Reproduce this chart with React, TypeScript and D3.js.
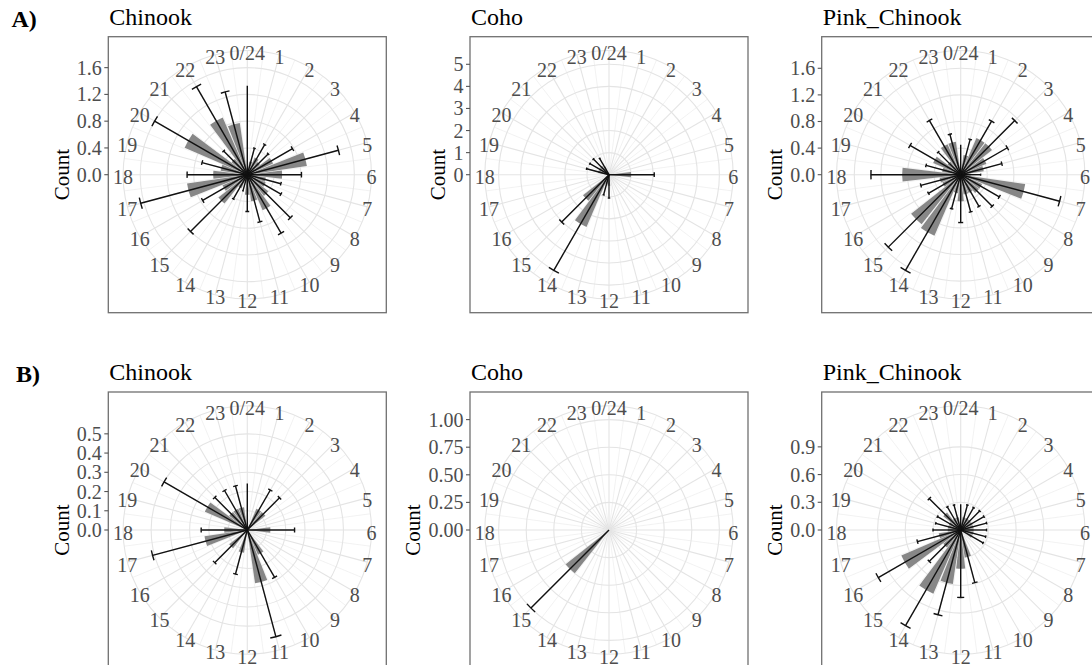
import React from 'react';
import * as d3 from 'd3';

// Hour of day (theta) and its labels; the first and last share a position.
const HOURS = [0, 1, 2, 3, 4, 5, 6, 7, 8, 9, 10, 11, 12, 13, 14, 15, 16, 17, 18, 19, 20, 21, 22, 23];
const HOUR_LABELS = ['0/24', '1', '2', '3', '4', '5', '6', '7', '8', '9', '10', '11', '12', '13', '14', '15', '16', '17', '18', '19', '20', '21', '22', '23'];

// A) Chinook — mean count per hour and upper error limit
const chinookA_mean = [0, 0.2, 0.28, 0.24, 0.42, 0.9, 0.52, 0.28, 0.3, 0.4, 0.58, 0.4, 0.3, 0.12, 0.22, 0.55, 0.4, 0.91, 0.51, 0.4, 1.02, 0.3, 0.93, 0.78];
const chinookA_upper = [1.33, 0.41, 0.52, 0.44, 0.78, 1.41, 0.81, 0.52, 0.58, 0.91, 1.01, 0.73, 0.55, 0.25, 0.42, 1.2, 0.77, 1.65, 0.9, 0.7, 1.6, 0.5, 1.52, 1.28];
const chinookA_ticks = [0, 0.4, 0.8, 1.2, 1.6];
const chinookA_tickLabels = ['0.0', '0.4', '0.8', '1.2', '1.6'];

// A) Coho
const cohoA_mean = [0, 0, 0, 0, 0, 0, 1.0, 0, 0, 0, 0, 0, 0.5, 0.45, 2.58, 1.5, 0, 0, 0, 0.5, 0.5, 0.5, 0.4, 0];
const cohoA_upper = [null, null, null, null, null, null, 2.05, null, null, null, null, null, 1.06, 0.95, 5.0, 3.03, null, null, null, 1.05, 1.0, 1.0, 0.85, null];
const cohoA_ticks = [0, 1, 2, 3, 4, 5];
const cohoA_tickLabels = ['0', '1', '2', '3', '4', '5'];

// A) Pink_Chinook
const pinkA_mean = [0, 0.3, 0.6, 0.6, 0.42, 0.35, 0.15, 0.98, 0.35, 0.35, 0.3, 0.3, 0.4, 0.28, 1.0, 0.95, 0.3, 0.32, 0.88, 0.28, 0.45, 0.25, 0.5, 0.5];
const pinkA_upper = [0.45, 0.55, 0.93, 1.15, 0.81, 0.64, 0.3, 1.54, 0.67, 0.67, 0.55, 0.58, 0.72, 0.53, 1.66, 1.54, 0.56, 0.62, 1.35, 0.54, 0.88, 0.48, 0.94, 0.63];
const pinkA_ticks = [0, 0.4, 0.8, 1.2, 1.6];
const pinkA_tickLabels = ['0.0', '0.4', '0.8', '1.2', '1.6'];

// B) Chinook
const chinookB_mean = [0, 0, 0.12, 0.12, 0, 0, 0.12, 0, 0, 0, 0.14, 0.28, 0, 0.12, 0, 0.12, 0, 0.225, 0.12, 0, 0.24, 0.12, 0.12, 0.12];
const chinookB_upper = [0.242, null, 0.24, 0.237, null, null, 0.246, null, null, null, 0.284, 0.574, null, 0.237, null, 0.24, null, 0.51, 0.24, null, 0.5, 0.24, 0.237, 0.237];
const chinookB_ticks = [0, 0.1, 0.2, 0.3, 0.4, 0.5];
const chinookB_tickLabels = ['0.0', '0.1', '0.2', '0.3', '0.4', '0.5'];

// B) Coho
const cohoB_mean = [0, 0, 0, 0, 0, 0, 0, 0, 0, 0, 0, 0, 0, 0, 0, 0.5, 0, 0, 0, 0, 0, 0, 0, 0];
const cohoB_upper = [null, null, null, null, null, null, null, null, null, null, null, null, null, null, null, 1.0, null, null, null, null, null, null, null, null];
const cohoB_ticks = [0, 0.25, 0.5, 0.75, 1.0];
const cohoB_tickLabels = ['0.00', '0.25', '0.50', '0.75', '1.00'];

// B) Pink_Chinook
const pinkB_mean = [0, 0.14, 0.14, 0.14, 0.14, 0.14, 0.14, 0.14, 0.14, 0, 0, 0.3, 0.42, 0.59, 0.75, 0.24, 0.7, 0.24, 0.14, 0.14, 0.14, 0.24, 0.14, 0.14];
const pinkB_upper = [0.28, 0.28, 0.28, 0.29, 0.29, 0.29, 0.28, 0.28, 0.28, null, null, 0.59, 0.73, 0.95, 1.195, 0.48, 1.03, 0.485, 0.3, 0.28, 0.29, 0.48, 0.29, 0.28];
const pinkB_ticks = [0, 0.3, 0.6, 0.9];
const pinkB_tickLabels = ['0.0', '0.3', '0.6', '0.9'];

const PANEL_W = 278;
const PANEL_H = 276;
const BAR_WIDTH = 0.9; // hours
const CAP_WIDTH = 0.4; // hours
const FONT = "'Liberation Serif', 'Times New Roman', serif";
const AXIS_GREY = '#4d4d4d';
const AXIS_SIZE = 20;

function textWidth(s: string, size: number): number {
  const c = document.createElement('canvas').getContext('2d');
  if (!c) return s.length * size * 0.5;
  c.font = `${size}px ${FONT}`;
  return c.measureText(s).width;
}

type PanelProps = {
  x0: number;
  y0: number;
  title: string;
  ticks: number[];
  tickLabels: string[];
  means: number[];
  uppers: (number | null)[];
};

function PolarPanel({ x0, y0, title, ticks, tickLabels, means, uppers }: PanelProps) {
  const cx = x0 + PANEL_W / 2;
  const cy = y0 + PANEL_H / 2;
  const rMax = d3.max(uppers.map((u, i) => Math.max(u ?? 0, means[i]))) as number;
  const r = d3.scaleLinear().domain([0, rMax]).range([0, 0.4 * PANEL_H]);
  const theta = d3.scaleLinear().domain([0, 24]).range([0, 2 * Math.PI]);
  const outer = 0.45 * PANEL_H;
  const pt = (a: number, rad: number) => [cx + rad * Math.sin(a), cy - rad * Math.cos(a)];

  const barArc = d3.arc<any>();
  const minorHours = HOURS.map((h) => h + 0.5);
  const gridCircles = ticks.filter((t) => t > 0 && t <= rMax).map((t) => r(t));

  const labelW = d3.max(tickLabels.map((l) => textWidth(l, AXIS_SIZE))) as number;
  const countX = x0 - 46.6 + (textWidth('0.0', AXIS_SIZE) - labelW);

  return (
    <g>
      <text x={x0 + 1} y={y0 - 12} fontFamily={FONT} fontSize={24} fill="#000">{title}</text>
      <rect x={x0} y={y0} width={PANEL_W} height={PANEL_H} fill="#fff" />
      {/* grid: spokes */}
      {minorHours.map((h) => {
        const [x, y] = pt(theta(h), outer);
        return <line key={'mn' + h} x1={cx} y1={cy} x2={x} y2={y} stroke="#ededed" strokeWidth={0.7} />;
      })}
      {HOURS.map((h) => {
        const [x, y] = pt(theta(h), outer);
        return <line key={'mj' + h} x1={cx} y1={cy} x2={x} y2={y} stroke="#e4e4e4" strokeWidth={1.1} />;
      })}
      {/* grid: circles */}
      {[...gridCircles, outer].map((rad, i) => (
        <circle key={'c' + i} cx={cx} cy={cy} r={rad} fill="none" stroke="#e4e4e4" strokeWidth={1.1} />
      ))}
      {/* bars */}
      {HOURS.map((h, i) =>
        means[i] > 0 ? (
          <path
            key={'b' + h}
            transform={`translate(${cx},${cy})`}
            d={barArc({ innerRadius: 0, outerRadius: r(means[i]), startAngle: theta(h - BAR_WIDTH / 2), endAngle: theta(h + BAR_WIDTH / 2) }) as string}
            fill="#878787"
          />
        ) : null
      )}
      {/* error bars */}
      {HOURS.map((h, i) => {
        const u = uppers[i];
        if (u == null) return null;
        const a = theta(h);
        const [x, y] = pt(a, r(u));
        const capStart = h - CAP_WIDTH / 2;
        let cap = null;
        if (capStart >= 0) {
          const p = d3.path();
          const a0 = theta(capStart) - Math.PI / 2;
          const a1 = theta(h + CAP_WIDTH / 2) - Math.PI / 2;
          p.moveTo(cx + r(u) * Math.cos(a0), cy + r(u) * Math.sin(a0));
          p.arc(cx, cy, r(u), a0, a1);
          cap = <path d={p.toString()} fill="none" stroke="#111" strokeWidth={1.4} />;
        }
        return (
          <g key={'e' + h}>
            <line x1={cx} y1={cy} x2={x} y2={y} stroke="#111" strokeWidth={1.4} />
            {cap}
          </g>
        );
      })}
      {/* hour labels */}
      {HOURS.map((h, i) => {
        const [x, y] = pt(theta(h), outer);
        return (
          <text key={'hl' + h} x={x} y={y + 2.5} textAnchor="middle" dominantBaseline="central" fontFamily={FONT} fontSize={AXIS_SIZE} fill={AXIS_GREY}>
            {HOUR_LABELS[i]}
          </text>
        );
      })}
      {/* panel border */}
      <rect x={x0} y={y0} width={PANEL_W} height={PANEL_H} fill="none" stroke="#707070" strokeWidth={1.3} />
      {/* radial axis on the left */}
      {ticks.map((t, i) => {
        const y = cy - r(t);
        return (
          <g key={'t' + i}>
            <line x1={x0 - 4} x2={x0} y1={y} y2={y} stroke="#555" strokeWidth={1.1} />
            <text x={x0 - 6.5} y={y} textAnchor="end" dominantBaseline="central" fontFamily={FONT} fontSize={AXIS_SIZE} fill={AXIS_GREY}>
              {tickLabels[i]}
            </text>
          </g>
        );
      })}
      <text
        transform={`translate(${countX},${cy}) rotate(-90)`}
        textAnchor="middle"
        dominantBaseline="central"
        fontFamily={FONT}
        fontSize={21}
        fill="#000"
      >
        Count
      </text>
    </g>
  );
}

const COL_X = [108.3, 470, 821.7];
const ROW_Y = [36.7, 392];

export default function App() {
  return (
    <svg width={1092} height={665} style={{ position: 'absolute', left: 0, top: 0, background: '#fff' }}>
      <rect x={0} y={0} width={1092} height={665} fill="#fff" />
      <text x={11.5} y={27} fontFamily={FONT} fontSize={24} fontWeight="bold" fill="#000">A)</text>
      <text x={16} y={382} fontFamily={FONT} fontSize={24} fontWeight="bold" fill="#000">B)</text>

      <PolarPanel x0={COL_X[0]} y0={ROW_Y[0]} title="Chinook" ticks={chinookA_ticks} tickLabels={chinookA_tickLabels} means={chinookA_mean} uppers={chinookA_upper} />
      <PolarPanel x0={COL_X[1]} y0={ROW_Y[0]} title="Coho" ticks={cohoA_ticks} tickLabels={cohoA_tickLabels} means={cohoA_mean} uppers={cohoA_upper} />
      <PolarPanel x0={COL_X[2]} y0={ROW_Y[0]} title="Pink_Chinook" ticks={pinkA_ticks} tickLabels={pinkA_tickLabels} means={pinkA_mean} uppers={pinkA_upper} />

      <PolarPanel x0={COL_X[0]} y0={ROW_Y[1]} title="Chinook" ticks={chinookB_ticks} tickLabels={chinookB_tickLabels} means={chinookB_mean} uppers={chinookB_upper} />
      <PolarPanel x0={COL_X[1]} y0={ROW_Y[1]} title="Coho" ticks={cohoB_ticks} tickLabels={cohoB_tickLabels} means={cohoB_mean} uppers={cohoB_upper} />
      <PolarPanel x0={COL_X[2]} y0={ROW_Y[1]} title="Pink_Chinook" ticks={pinkB_ticks} tickLabels={pinkB_tickLabels} means={pinkB_mean} uppers={pinkB_upper} />
    </svg>
  );
}
